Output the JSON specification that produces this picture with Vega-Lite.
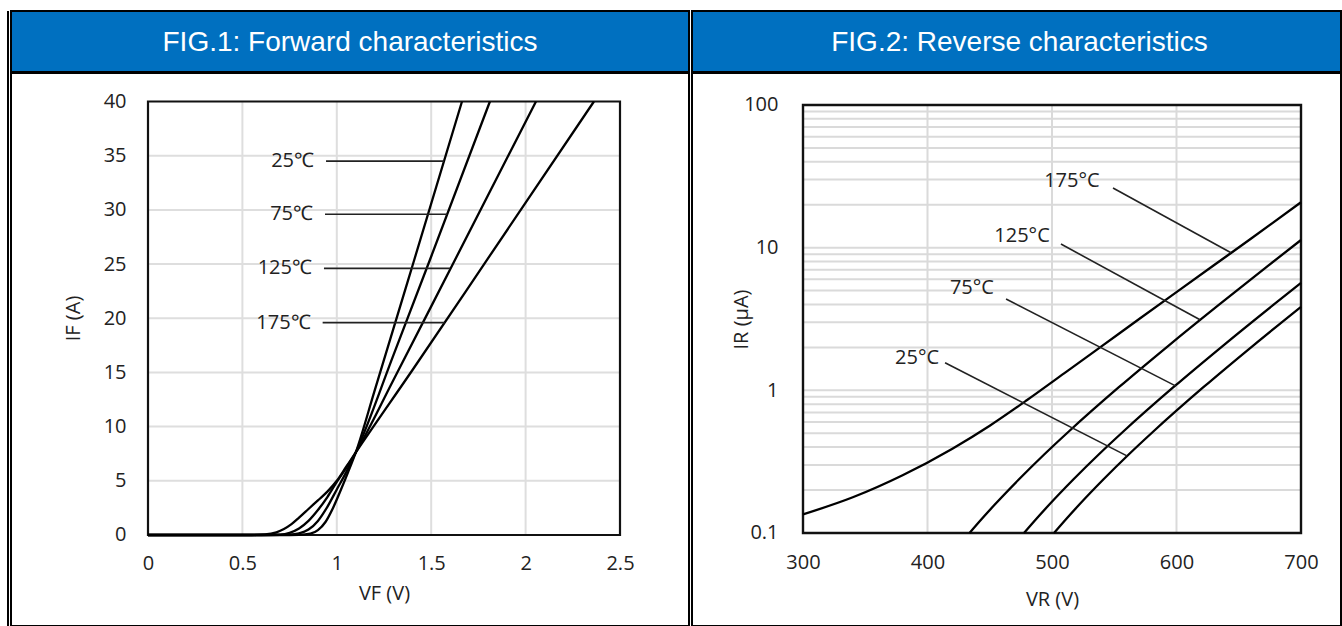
{
  "$schema": "https://vega.github.io/schema/vega-lite/v6.json",
  "background": "white",
  "padding": {"left": 7, "top": 10, "right": 0, "bottom": 0},
  "config": {
    "view": {"stroke": "black", "strokeWidth": 2},
    "axis": {"labelFont": "Open Sans", "labelFontSize": 20, "labelColor": "#222", "titleFont": "Open Sans", "titleFontSize": 20, "titleFontWeight": "normal", "titleColor": "#222"}
  },
  "spacing": 1,
  "hconcat": [
    {
      "width": 2, "height": 616,
      "view": {"fill": "black", "stroke": null},
      "data": {"values": []},
      "mark": "point",
      "encoding": {}
    },
    {
      "spacing": -2,
      "vconcat": [
        {
          "spacing": 1,
          "hconcat": [
            {
              "width": 678, "height": 61,
              "view": {"fill": "#0070C0", "stroke": "black", "strokeWidth": 2},
              "data": {"values": [{"t": "FIG.1: Forward characteristics"}]},
              "mark": {"type": "text", "color": "white", "font": "Liberation Sans", "fontSize": 28, "baseline": "middle", "dy": 1},
              "encoding": {"text": {"field": "t"}}
            },
            {
              "width": 649, "height": 61,
              "view": {"fill": "#0070C0", "stroke": "black", "strokeWidth": 2},
              "data": {"values": [{"t": "FIG.2: Reverse characteristics"}]},
              "mark": {"type": "text", "color": "white", "font": "Liberation Sans", "fontSize": 28, "baseline": "middle", "dy": 1, "dx": 3},
              "encoding": {"text": {"field": "t"}}
            }
          ]
        },
        {
          "spacing": 1,
          "hconcat": [
            {
              "width": 678, "height": 553,
              "view": {"fill": "white", "stroke": "black", "strokeWidth": 2},
              "layer": [
                {
                  "data": {"values": [{"g": 0.5}, {"g": 1}, {"g": 1.5}, {"g": 2}]},
                  "mark": {"type": "rule", "color": "#dedede", "strokeWidth": 2},
                  "encoding": {
                    "x": {"field": "g", "type": "quantitative", "scale": {"domain": [-0.72564, 2.86547], "nice": false, "zero": false},
                      "axis": {"values": [0, 0.5, 1, 1.5, 2, 2.5], "format": "~g", "offset": -91, "domain": false, "ticks": false, "tickSize": 0, "grid": false, "labelPadding": 28, "labelBaseline": "middle", "labelFlush": false, "labelOverlap": false, "title": "VF (V)", "titleX": 373, "titleY": 58, "titleBaseline": "middle", "titleAlign": "center"}},
                    "y": {"datum": 0, "type": "quantitative", "scale": {"domain": [-8.3968, 42.6298], "nice": false, "zero": false},
                      "axis": {"values": [0, 5, 10, 15, 20, 25, 30, 35, 40], "offset": -137, "domain": false, "ticks": false, "tickSize": 0, "grid": false, "labelPadding": 22, "labelFlush": false, "labelOverlap": false, "title": "IF (A)", "titleX": -75, "titleY": 245, "titleAngle": -90, "titleBaseline": "middle", "titleAlign": "center"}},
                    "y2": {"datum": 40}
                  }
                },
                {
                  "data": {"values": [{"g": 5}, {"g": 10}, {"g": 15}, {"g": 20}, {"g": 25}, {"g": 30}, {"g": 35}]},
                  "mark": {"type": "rule", "color": "#dedede", "strokeWidth": 2},
                  "encoding": {
                    "y": {"field": "g", "type": "quantitative",
                      "axis": {"values": [0, 5, 10, 15, 20, 25, 30, 35, 40], "offset": -137, "domain": false, "ticks": false, "tickSize": 0, "grid": false, "labelPadding": 22, "labelFlush": false, "labelOverlap": false, "title": "IF (A)", "titleX": -75, "titleY": 245, "titleAngle": -90, "titleBaseline": "middle", "titleAlign": "center"}},
                    "x": {"datum": 0, "type": "quantitative",
                      "axis": {"values": [0, 0.5, 1, 1.5, 2, 2.5], "format": "~g", "offset": -91, "domain": false, "ticks": false, "tickSize": 0, "grid": false, "labelPadding": 28, "labelBaseline": "middle", "labelFlush": false, "labelOverlap": false, "title": "VF (V)", "titleX": 373, "titleY": 58, "titleBaseline": "middle", "titleAlign": "center"}},
                    "x2": {"datum": 2.5}
                  }
                },
                {
                  "data": {"values": [{"x0": 0, "x1": 2.5, "y0": 0, "y1": 40}]},
                  "mark": {"type": "rect", "filled": false, "color": "#111", "strokeWidth": 2.2},
                  "encoding": {
                    "x": {"field": "x0", "type": "quantitative",
                      "axis": {"values": [0, 0.5, 1, 1.5, 2, 2.5], "format": "~g", "offset": -91, "domain": false, "ticks": false, "tickSize": 0, "grid": false, "labelPadding": 28, "labelBaseline": "middle", "labelFlush": false, "labelOverlap": false, "title": "VF (V)", "titleX": 373, "titleY": 58, "titleBaseline": "middle", "titleAlign": "center"}},
                    "x2": {"field": "x1"},
                    "y": {"field": "y0", "type": "quantitative",
                      "axis": {"values": [0, 5, 10, 15, 20, 25, 30, 35, 40], "offset": -137, "domain": false, "ticks": false, "tickSize": 0, "grid": false, "labelPadding": 22, "labelFlush": false, "labelOverlap": false, "title": "IF (A)", "titleX": -75, "titleY": 245, "titleAngle": -90, "titleBaseline": "middle", "titleAlign": "center"}},
                    "y2": {"field": "y1"}
                  }
                },
                {
                  "data": {"values": [
                    {"T": "25", "V": 0, "I": 0}, {"T": "25", "V": 0.7, "I": 0}, {"T": "25", "V": 0.8, "I": 0.02}, {"T": "25", "V": 0.86, "I": 0.12}, {"T": "25", "V": 0.9, "I": 0.45}, {"T": "25", "V": 0.94, "I": 1.2}, {"T": "25", "V": 0.98, "I": 2.5}, {"T": "25", "V": 1.02, "I": 4.1}, {"T": "25", "V": 1.06, "I": 5.8}, {"T": "25", "V": 1.1, "I": 7.6}, {"T": "25", "V": 1.2, "I": 13.3}, {"T": "25", "V": 1.4, "I": 24.8}, {"T": "25", "V": 1.663, "I": 40},
                    {"T": "75", "V": 0, "I": 0}, {"T": "75", "V": 0.65, "I": 0}, {"T": "75", "V": 0.75, "I": 0.03}, {"T": "75", "V": 0.8, "I": 0.15}, {"T": "75", "V": 0.85, "I": 0.5}, {"T": "75", "V": 0.9, "I": 1.3}, {"T": "75", "V": 0.95, "I": 2.6}, {"T": "75", "V": 1.0, "I": 4.2}, {"T": "75", "V": 1.05, "I": 5.8}, {"T": "75", "V": 1.1, "I": 7.6}, {"T": "75", "V": 1.3, "I": 16.6}, {"T": "75", "V": 1.5, "I": 25.7}, {"T": "75", "V": 1.811, "I": 40},
                    {"T": "125", "V": 0, "I": 0}, {"T": "125", "V": 0.6, "I": 0}, {"T": "125", "V": 0.7, "I": 0.04}, {"T": "125", "V": 0.75, "I": 0.2}, {"T": "125", "V": 0.8, "I": 0.6}, {"T": "125", "V": 0.85, "I": 1.3}, {"T": "125", "V": 0.9, "I": 2.3}, {"T": "125", "V": 0.95, "I": 3.5}, {"T": "125", "V": 1.0, "I": 4.9}, {"T": "125", "V": 1.05, "I": 6.2}, {"T": "125", "V": 1.1, "I": 7.6}, {"T": "125", "V": 1.3, "I": 14.3}, {"T": "125", "V": 1.6, "I": 24.5}, {"T": "125", "V": 2.055, "I": 40},
                    {"T": "175", "V": 0, "I": 0}, {"T": "175", "V": 0.55, "I": 0}, {"T": "175", "V": 0.62, "I": 0.05}, {"T": "175", "V": 0.68, "I": 0.25}, {"T": "175", "V": 0.72, "I": 0.55}, {"T": "175", "V": 0.76, "I": 1.0}, {"T": "175", "V": 0.8, "I": 1.6}, {"T": "175", "V": 0.85, "I": 2.4}, {"T": "175", "V": 0.9, "I": 3.2}, {"T": "175", "V": 0.95, "I": 4.0}, {"T": "175", "V": 1.0, "I": 5.0}, {"T": "175", "V": 1.05, "I": 6.3}, {"T": "175", "V": 1.1, "I": 7.6}, {"T": "175", "V": 1.4, "I": 15.2}, {"T": "175", "V": 1.8, "I": 25.5}, {"T": "175", "V": 2.362, "I": 40}
                  ]},
                  "mark": {"type": "line", "color": "black", "strokeWidth": 2.3, "interpolate": "monotone"},
                  "encoding": {
                    "x": {"field": "V", "type": "quantitative",
                      "axis": {"values": [0, 0.5, 1, 1.5, 2, 2.5], "format": "~g", "offset": -91, "domain": false, "ticks": false, "tickSize": 0, "grid": false, "labelPadding": 28, "labelBaseline": "middle", "labelFlush": false, "labelOverlap": false, "title": "VF (V)", "titleX": 373, "titleY": 58, "titleBaseline": "middle", "titleAlign": "center"}},
                    "y": {"field": "I", "type": "quantitative",
                      "axis": {"values": [0, 5, 10, 15, 20, 25, 30, 35, 40], "offset": -137, "domain": false, "ticks": false, "tickSize": 0, "grid": false, "labelPadding": 22, "labelFlush": false, "labelOverlap": false, "title": "IF (A)", "titleX": -75, "titleY": 245, "titleAngle": -90, "titleBaseline": "middle", "titleAlign": "center"}},
                    "detail": {"field": "T"}
                  }
                },
                {
                  "data": {"values": [
                    {"label": "25℃", "x1": 0.943, "x2": 1.568, "y": 34.5},
                    {"label": "75℃", "x1": 0.9375, "x2": 1.584, "y": 29.6},
                    {"label": "125℃", "x1": 0.932, "x2": 1.6, "y": 24.6},
                    {"label": "175℃", "x1": 0.925, "x2": 1.571, "y": 19.6}
                  ]},
                  "mark": {"type": "rule", "color": "#222", "strokeWidth": 1.6},
                  "encoding": {
                    "x": {"field": "x1", "type": "quantitative",
                      "axis": {"values": [0, 0.5, 1, 1.5, 2, 2.5], "format": "~g", "offset": -91, "domain": false, "ticks": false, "tickSize": 0, "grid": false, "labelPadding": 28, "labelBaseline": "middle", "labelFlush": false, "labelOverlap": false, "title": "VF (V)", "titleX": 373, "titleY": 58, "titleBaseline": "middle", "titleAlign": "center"}},
                    "x2": {"field": "x2"},
                    "y": {"field": "y", "type": "quantitative",
                      "axis": {"values": [0, 5, 10, 15, 20, 25, 30, 35, 40], "offset": -137, "domain": false, "ticks": false, "tickSize": 0, "grid": false, "labelPadding": 22, "labelFlush": false, "labelOverlap": false, "title": "IF (A)", "titleX": -75, "titleY": 245, "titleAngle": -90, "titleBaseline": "middle", "titleAlign": "center"}}
                  }
                },
                {
                  "data": {"values": [
                    {"label": "25℃", "x1": 0.943, "y": 34.5},
                    {"label": "75℃", "x1": 0.9375, "y": 29.6},
                    {"label": "125℃", "x1": 0.932, "y": 24.6},
                    {"label": "175℃", "x1": 0.925, "y": 19.6}
                  ]},
                  "mark": {"type": "text", "align": "right", "baseline": "middle", "dx": -12, "font": "Open Sans", "fontSize": 20, "color": "#222"},
                  "encoding": {
                    "x": {"field": "x1", "type": "quantitative",
                      "axis": {"values": [0, 0.5, 1, 1.5, 2, 2.5], "format": "~g", "offset": -91, "domain": false, "ticks": false, "tickSize": 0, "grid": false, "labelPadding": 28, "labelBaseline": "middle", "labelFlush": false, "labelOverlap": false, "title": "VF (V)", "titleX": 373, "titleY": 58, "titleBaseline": "middle", "titleAlign": "center"}},
                    "y": {"field": "y", "type": "quantitative",
                      "axis": {"values": [0, 5, 10, 15, 20, 25, 30, 35, 40], "offset": -137, "domain": false, "ticks": false, "tickSize": 0, "grid": false, "labelPadding": 22, "labelFlush": false, "labelOverlap": false, "title": "IF (A)", "titleX": -75, "titleY": 245, "titleAngle": -90, "titleBaseline": "middle", "titleAlign": "center"}},
                    "text": {"field": "label"}
                  }
                }
              ]
            },
            {
              "width": 649, "height": 553,
              "view": {"fill": "white", "stroke": "black", "strokeWidth": 2},
              "layer": [
                {
                  "data": {"values": [{"g": 400}, {"g": 500}, {"g": 600}]},
                  "mark": {"type": "rule", "color": "#dadada", "strokeWidth": 2},
                  "encoding": {
                    "x": {"field": "g", "type": "quantitative", "scale": {"domain": [210.843, 732.129], "nice": false, "zero": false},
                      "axis": {"values": [300, 400, 500, 600, 700], "format": "d", "offset": -93, "domain": false, "ticks": false, "tickSize": 0, "grid": false, "labelPadding": 29, "labelBaseline": "middle", "labelFlush": false, "labelOverlap": false, "title": "VR (V)", "titleX": 360, "titleY": 66, "titleBaseline": "middle", "titleAlign": "center"}},
                    "y": {"datum": 0.1, "type": "quantitative", "scale": {"type": "log", "domain": [0.022291, 167.57], "nice": false},
                      "axis": {"values": [0.1, 1, 10, 100], "format": "~g", "offset": -111, "domain": false, "ticks": false, "tickSize": 0, "grid": false, "labelPadding": 25, "labelFlush": false, "labelOverlap": false, "title": "IR (μA)", "titleX": -62, "titleY": 246, "titleAngle": -90, "titleBaseline": "middle", "titleAlign": "center"}},
                    "y2": {"datum": 100}
                  }
                },
                {
                  "data": {"values": [{"g": 0.2}, {"g": 0.3}, {"g": 0.4}, {"g": 0.5}, {"g": 0.6}, {"g": 0.7}, {"g": 0.8}, {"g": 0.9}, {"g": 1}, {"g": 2}, {"g": 3}, {"g": 4}, {"g": 5}, {"g": 6}, {"g": 7}, {"g": 8}, {"g": 9}, {"g": 10}, {"g": 20}, {"g": 30}, {"g": 40}, {"g": 50}, {"g": 60}, {"g": 70}, {"g": 80}, {"g": 90}]},
                  "mark": {"type": "rule", "color": "#dadada", "strokeWidth": 2},
                  "encoding": {
                    "y": {"field": "g", "type": "quantitative", "scale": {"type": "log", "domain": [0.022291, 167.57], "nice": false},
                      "axis": {"values": [0.1, 1, 10, 100], "format": "~g", "offset": -111, "domain": false, "ticks": false, "tickSize": 0, "grid": false, "labelPadding": 25, "labelFlush": false, "labelOverlap": false, "title": "IR (μA)", "titleX": -62, "titleY": 246, "titleAngle": -90, "titleBaseline": "middle", "titleAlign": "center"}},
                    "x": {"datum": 300, "type": "quantitative",
                      "axis": {"values": [300, 400, 500, 600, 700], "format": "d", "offset": -93, "domain": false, "ticks": false, "tickSize": 0, "grid": false, "labelPadding": 29, "labelBaseline": "middle", "labelFlush": false, "labelOverlap": false, "title": "VR (V)", "titleX": 360, "titleY": 66, "titleBaseline": "middle", "titleAlign": "center"}},
                    "x2": {"datum": 700}
                  }
                },
                {
                  "data": {"values": [{"x0": 300, "x1": 700, "y0": 0.1, "y1": 100}]},
                  "mark": {"type": "rect", "filled": false, "color": "#111", "strokeWidth": 2.4},
                  "encoding": {
                    "x": {"field": "x0", "type": "quantitative",
                      "axis": {"values": [300, 400, 500, 600, 700], "format": "d", "offset": -93, "domain": false, "ticks": false, "tickSize": 0, "grid": false, "labelPadding": 29, "labelBaseline": "middle", "labelFlush": false, "labelOverlap": false, "title": "VR (V)", "titleX": 360, "titleY": 66, "titleBaseline": "middle", "titleAlign": "center"}},
                    "x2": {"field": "x1"},
                    "y": {"field": "y0", "type": "quantitative", "scale": {"type": "log", "domain": [0.022291, 167.57], "nice": false},
                      "axis": {"values": [0.1, 1, 10, 100], "format": "~g", "offset": -111, "domain": false, "ticks": false, "tickSize": 0, "grid": false, "labelPadding": 25, "labelFlush": false, "labelOverlap": false, "title": "IR (μA)", "titleX": -62, "titleY": 246, "titleAngle": -90, "titleBaseline": "middle", "titleAlign": "center"}},
                    "y2": {"field": "y1"}
                  }
                },
                {
                  "data": {"values": [
                    {"T": "175", "V": 300, "I": 0.135}, {"T": "175", "V": 340, "I": 0.178}, {"T": "175", "V": 380, "I": 0.254}, {"T": "175", "V": 420, "I": 0.39}, {"T": "175", "V": 450, "I": 0.565}, {"T": "175", "V": 480, "I": 0.855}, {"T": "175", "V": 510, "I": 1.32}, {"T": "175", "V": 540, "I": 2.04}, {"T": "175", "V": 570, "I": 3.16}, {"T": "175", "V": 600, "I": 4.88}, {"T": "175", "V": 630, "I": 7.53}, {"T": "175", "V": 660, "I": 11.6}, {"T": "175", "V": 700, "I": 20.8},
                    {"T": "125", "V": 433.7, "I": 0.1}, {"T": "125", "V": 443.7, "I": 0.1259}, {"T": "125", "V": 453.7, "I": 0.157}, {"T": "125", "V": 473.7, "I": 0.2388}, {"T": "125", "V": 493.7, "I": 0.3548}, {"T": "125", "V": 513.7, "I": 0.5164}, {"T": "125", "V": 553.7, "I": 1.051}, {"T": "125", "V": 593.7, "I": 2.061}, {"T": "125", "V": 633.7, "I": 3.954}, {"T": "125", "V": 673.7, "I": 7.482}, {"T": "125", "V": 700, "I": 11.32},
                    {"T": "75", "V": 477.5, "I": 0.1}, {"T": "75", "V": 487.5, "I": 0.1259}, {"T": "75", "V": 497.5, "I": 0.157}, {"T": "75", "V": 517.5, "I": 0.2388}, {"T": "75", "V": 537.5, "I": 0.3548}, {"T": "75", "V": 557.5, "I": 0.5164}, {"T": "75", "V": 597.5, "I": 1.051}, {"T": "75", "V": 637.5, "I": 2.061}, {"T": "75", "V": 677.5, "I": 3.954}, {"T": "75", "V": 700, "I": 5.67},
                    {"T": "25", "V": 501.6, "I": 0.1}, {"T": "25", "V": 511.6, "I": 0.1259}, {"T": "25", "V": 521.6, "I": 0.157}, {"T": "25", "V": 541.6, "I": 0.2388}, {"T": "25", "V": 561.6, "I": 0.3548}, {"T": "25", "V": 581.6, "I": 0.5164}, {"T": "25", "V": 621.6, "I": 1.051}, {"T": "25", "V": 661.6, "I": 2.061}, {"T": "25", "V": 700, "I": 3.85}
                  ]},
                  "mark": {"type": "line", "color": "black", "strokeWidth": 2.3, "interpolate": "monotone"},
                  "encoding": {
                    "x": {"field": "V", "type": "quantitative",
                      "axis": {"values": [300, 400, 500, 600, 700], "format": "d", "offset": -93, "domain": false, "ticks": false, "tickSize": 0, "grid": false, "labelPadding": 29, "labelBaseline": "middle", "labelFlush": false, "labelOverlap": false, "title": "VR (V)", "titleX": 360, "titleY": 66, "titleBaseline": "middle", "titleAlign": "center"}},
                    "y": {"field": "I", "type": "quantitative", "scale": {"type": "log", "domain": [0.022291, 167.57], "nice": false},
                      "axis": {"values": [0.1, 1, 10, 100], "format": "~g", "offset": -111, "domain": false, "ticks": false, "tickSize": 0, "grid": false, "labelPadding": 25, "labelFlush": false, "labelOverlap": false, "title": "IR (μA)", "titleX": -62, "titleY": 246, "titleAngle": -90, "titleBaseline": "middle", "titleAlign": "center"}},
                    "detail": {"field": "T"}
                  }
                },
                {
                  "data": {"values": [
                    {"label": "175°C", "x1": 549.0, "y1": 26.2, "x2": 643.8, "y2": 9.2},
                    {"label": "125°C", "x1": 507.2, "y1": 10.6, "x2": 618.9, "y2": 3.12},
                    {"label": "75°C", "x1": 463.1, "y1": 4.37, "x2": 599.6, "y2": 1.07},
                    {"label": "25°C", "x1": 414.1, "y1": 1.56, "x2": 560.2, "y2": 0.347}
                  ]},
                  "mark": {"type": "rule", "color": "#222", "strokeWidth": 1.6},
                  "encoding": {
                    "x": {"field": "x1", "type": "quantitative",
                      "axis": {"values": [300, 400, 500, 600, 700], "format": "d", "offset": -93, "domain": false, "ticks": false, "tickSize": 0, "grid": false, "labelPadding": 29, "labelBaseline": "middle", "labelFlush": false, "labelOverlap": false, "title": "VR (V)", "titleX": 360, "titleY": 66, "titleBaseline": "middle", "titleAlign": "center"}},
                    "x2": {"field": "x2"},
                    "y": {"field": "y1", "type": "quantitative", "scale": {"type": "log", "domain": [0.022291, 167.57], "nice": false},
                      "axis": {"values": [0.1, 1, 10, 100], "format": "~g", "offset": -111, "domain": false, "ticks": false, "tickSize": 0, "grid": false, "labelPadding": 25, "labelFlush": false, "labelOverlap": false, "title": "IR (μA)", "titleX": -62, "titleY": 246, "titleAngle": -90, "titleBaseline": "middle", "titleAlign": "center"}},
                    "y2": {"field": "y2"}
                  }
                },
                {
                  "data": {"values": [
                    {"label": "175°C", "tx": 516, "ty": 29.3},
                    {"label": "125°C", "tx": 475.9, "ty": 12.1},
                    {"label": "75°C", "tx": 435.7, "ty": 5.21},
                    {"label": "25°C", "tx": 391.6, "ty": 1.69}
                  ]},
                  "mark": {"type": "text", "align": "center", "baseline": "middle", "font": "Open Sans", "fontSize": 20, "color": "#222"},
                  "encoding": {
                    "x": {"field": "tx", "type": "quantitative",
                      "axis": {"values": [300, 400, 500, 600, 700], "format": "d", "offset": -93, "domain": false, "ticks": false, "tickSize": 0, "grid": false, "labelPadding": 29, "labelBaseline": "middle", "labelFlush": false, "labelOverlap": false, "title": "VR (V)", "titleX": 360, "titleY": 66, "titleBaseline": "middle", "titleAlign": "center"}},
                    "y": {"field": "ty", "type": "quantitative", "scale": {"type": "log", "domain": [0.022291, 167.57], "nice": false},
                      "axis": {"values": [0.1, 1, 10, 100], "format": "~g", "offset": -111, "domain": false, "ticks": false, "tickSize": 0, "grid": false, "labelPadding": 25, "labelFlush": false, "labelOverlap": false, "title": "IR (μA)", "titleX": -62, "titleY": 246, "titleAngle": -90, "titleBaseline": "middle", "titleAlign": "center"}},
                    "text": {"field": "label"}
                  }
                }
              ]
            }
          ]
        }
      ]
    }
  ]
}
